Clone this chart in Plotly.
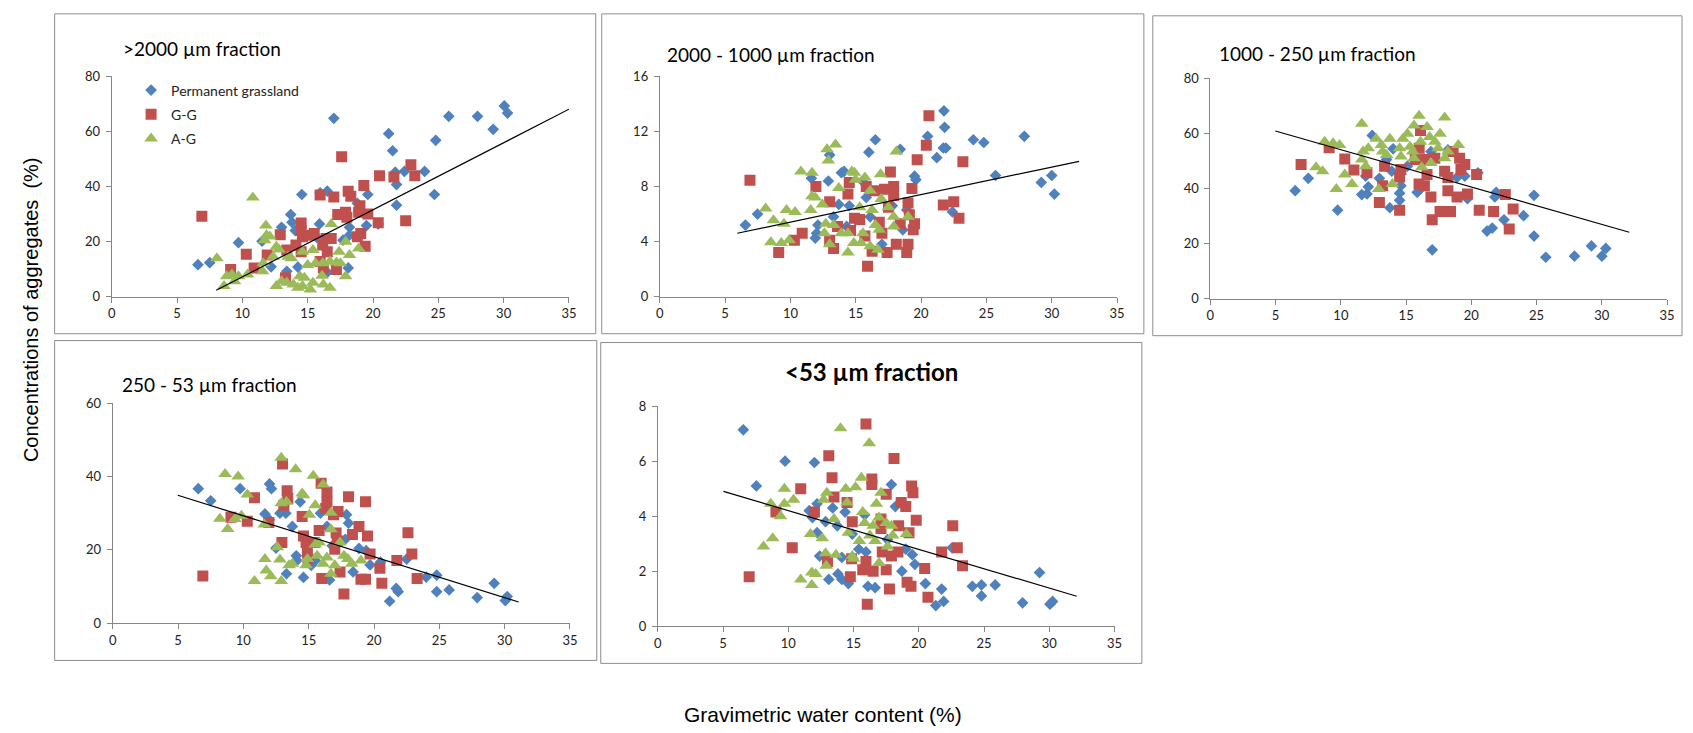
import plotly.graph_objects as go

W, H = 1693, 733

# ---------------- data ----------------
series_names = ["Permanent grassland", "G-G", "A-G"]

# Panel 1: >2000 um
p1_pg_x = [6.6, 7.5, 9.7, 11.5, 13.7, 13.8, 13.0, 14.05, 14.55, 15.95, 16.5, 17.0, 21.2, 21.5, 21.7, 21.8, 22.4, 23.95, 24.8, 24.7, 21.8, 19.6, 20.4, 19.5, 18.8, 15.9, 18.2, 18.1, 16.5, 14.25, 13.4, 12.2, 17.7, 18.2, 25.8, 28.0, 29.2, 30.05, 30.3, 15.7]
p1_pg_y = [11.6, 12.3, 19.6, 20.1, 29.8, 27.0, 25.2, 24.0, 37.1, 37.7, 38.3, 64.8, 59.2, 53.0, 45.2, 40.7, 45.5, 45.5, 56.8, 37.1, 33.2, 37.1, 26.4, 25.8, 33.9, 26.4, 25.2, 10.4, 8.8, 10.7, 9.2, 10.8, 20.5, 22.3, 65.5, 65.5, 60.8, 69.3, 66.7, 21.5]
p1_gg_x = [6.9, 17.6, 15.95, 17.0, 18.1, 18.3, 19.3, 20.5, 21.6, 22.9, 23.2, 22.5, 20.4, 19.0, 18.9, 17.9, 17.3, 18.0, 19.6, 14.5, 14.5, 12.9, 14.6, 15.1, 15.5, 16.4, 16.8, 16.15, 16.5, 19.06, 18.8, 19.4, 11.9, 10.3, 10.9, 9.1, 13.3, 16.2, 17.2, 14.1, 14.5, 13.4, 15.95]
p1_gg_y = [29.2, 50.8, 36.9, 36.2, 38.3, 36.5, 40.4, 43.9, 43.5, 47.9, 43.9, 27.6, 26.8, 33.0, 30.6, 30.6, 29.8, 28.8, 30.0, 26.7, 24.0, 22.5, 21.7, 22.3, 22.9, 21.1, 21.1, 18.7, 16.3, 22.9, 21.7, 18.3, 15.1, 15.4, 10.4, 9.8, 6.8, 10.4, 9.8, 18.7, 16.3, 16.9, 12.7]
p1_ag_x = [10.8, 8.05, 8.6, 8.8, 9.2, 9.7, 10.4, 9.4, 11.8, 11.85, 11.7, 11.6, 11.55, 12.6, 12.8, 12.35, 12.6, 13.0, 13.4, 13.9, 14.4, 14.6, 13.75, 14.6, 15.4, 15.0, 15.6, 16.15, 16.7, 17.2, 17.5, 16.8, 17.9, 18.2, 18.9, 17.9, 15.4, 16.2, 16.7, 15.2, 14.25, 14.75, 13.5, 16.1, 17.4, 12.1]
p1_ag_y = [36.0, 13.9, 3.8, 7.4, 8.0, 7.4, 8.0, 5.6, 25.8, 22.3, 20.5, 12.1, 9.2, 18.1, 17.1, 14.5, 3.8, 5.6, 5.0, 4.4, 7.4, 3.8, 13.9, 16.3, 16.9, 11.5, 12.1, 12.1, 12.7, 12.4, 12.1, 26.4, 19.9, 15.1, 17.5, 7.4, 5.0, 4.4, 3.2, 2.6, 3.2, 6.8, 14.5, 7.6, 16.3, 21.8]
trend1_x = [8.0, 35.0]
trend1_y = [2.3, 68.1]

# Panel 2: 2000 - 1000 um
p2_pg_x = [6.55, 7.48, 11.6, 12.1, 12.0, 11.9, 12.9, 13.0, 13.3, 13.7, 13.9, 14.1, 14.5, 14.3, 16.0, 16.5, 18.4, 17.8, 17.0, 19.5, 19.6, 18.9, 18.6, 20.5, 21.2, 21.7, 21.9, 21.75, 21.8, 22.4, 24.0, 24.8, 25.7, 27.9, 29.2, 30.0, 30.2, 15.8, 16.1, 15.5]
p2_pg_y = [5.2, 6.0, 8.6, 5.2, 4.6, 4.25, 8.4, 10.3, 5.8, 6.7, 9.0, 9.1, 6.6, 5.1, 10.5, 11.4, 10.7, 6.6, 3.8, 8.75, 8.5, 6.3, 4.85, 11.65, 10.1, 10.8, 10.8, 13.5, 12.3, 6.15, 11.4, 11.2, 8.8, 11.65, 8.3, 8.8, 7.45, 7.2, 5.8, 8.4]
p2_gg_x = [6.9, 9.1, 10.3, 10.9, 11.95, 13.0, 13.3, 13.0, 13.6, 14.4, 14.5, 14.9, 15.8, 15.9, 16.25, 16.4, 17.2, 17.65, 17.9, 17.9, 17.4, 18.1, 18.9, 19.0, 19.3, 19.0, 19.4, 19.5, 19.1, 19.7, 20.4, 20.6, 21.7, 22.5, 22.9, 23.2, 15.3, 15.7, 16.8, 17.5, 18.4, 17.0, 14.6]
p2_gg_y = [8.45, 3.2, 4.1, 4.6, 8.0, 6.9, 3.5, 4.1, 5.1, 7.45, 8.3, 5.7, 8.0, 2.2, 3.3, 7.7, 7.8, 9.05, 8.0, 7.35, 3.2, 3.8, 3.2, 3.8, 7.85, 6.8, 4.85, 5.3, 5.95, 9.95, 11.0, 13.15, 6.65, 6.9, 5.7, 9.8, 5.6, 4.4, 5.4, 6.5, 5.3, 4.6, 4.8]
p2_ag_x = [8.1, 8.7, 9.5, 9.7, 10.35, 8.5, 9.3, 9.9, 10.8, 11.65, 11.65, 11.9, 11.55, 12.45, 12.8, 12.9, 13.45, 13.7, 12.7, 12.6, 13.3, 13.0, 13.9, 14.4, 14.4, 14.7, 14.9, 14.98, 15.7, 15.3, 15.55, 15.4, 14.85, 16.1, 16.25, 16.1, 16.7, 16.5, 16.8, 16.9, 16.95, 17.5, 17.9, 17.9, 18.1, 19.0]
p2_ag_y = [6.4, 5.55, 5.3, 6.3, 6.15, 3.95, 3.9, 4.1, 9.1, 9.0, 7.3, 7.2, 6.3, 6.7, 10.7, 9.9, 11.05, 7.9, 5.3, 4.6, 5.2, 3.8, 4.6, 4.6, 3.2, 9.1, 9.0, 8.5, 8.65, 6.5, 4.6, 3.9, 3.9, 7.7, 6.3, 3.65, 3.4, 5.2, 4.85, 8.9, 7.1, 6.5, 5.8, 5.1, 10.55, 5.8]
trend2_x = [5.93, 32.1]
trend2_y = [4.6, 9.83]

# Panel 3: 1000 - 250 um
p3_pg_x = [6.5, 7.5, 9.75, 11.6, 12.0, 12.1, 11.9, 12.4, 12.95, 13.75, 13.9, 14.0, 14.5, 14.5, 14.6, 15.85, 16.1, 16.9, 17.0, 18.2, 18.9, 19.5, 19.7, 20.5, 21.2, 21.6, 21.9, 21.8, 22.5, 24.0, 24.8, 24.8, 25.7, 27.9, 29.2, 30.0, 30.3, 15.1, 16.4, 13.5]
p3_pg_y = [39.2, 43.7, 32.1, 37.8, 38.0, 40.6, 44.5, 59.3, 43.7, 33.0, 46.3, 54.4, 35.7, 38.3, 41.0, 38.6, 39.8, 53.4, 17.7, 54.0, 44.0, 44.5, 36.3, 45.7, 24.5, 25.6, 38.6, 36.9, 28.6, 30.1, 37.5, 22.7, 15.0, 15.4, 19.1, 15.4, 18.2, 48.1, 49.9, 50.5]
p3_gg_x = [6.95, 9.1, 10.3, 11.0, 12.0, 12.95, 13.2, 13.35, 14.5, 14.5, 14.6, 15.99, 16.1, 16.4, 16.9, 17.0, 16.5, 17.2, 17.6, 18.4, 18.2, 17.95, 18.2, 18.9, 19.1, 19.2, 19.5, 19.7, 20.4, 20.6, 21.7, 22.6, 22.9, 23.2, 15.7, 16.0, 16.6, 18.6]
p3_gg_y = [48.7, 54.8, 50.7, 46.7, 45.7, 34.9, 41.0, 48.1, 32.1, 44.2, 46.9, 41.6, 61.1, 41.0, 36.9, 28.6, 50.5, 51.0, 31.6, 31.6, 39.2, 46.3, 44.0, 36.9, 51.0, 46.9, 48.7, 38.0, 45.1, 32.1, 31.6, 37.8, 25.3, 32.5, 50.5, 54.6, 45.1, 53.4]
p3_ag_x = [8.1, 8.6, 8.75, 9.4, 9.65, 9.9, 10.3, 10.85, 11.6, 11.7, 11.6, 11.9, 12.1, 12.7, 12.9, 13.1, 13.2, 13.75, 13.95, 14.5, 14.6, 14.75, 15.1, 15.5, 15.6, 15.6, 15.99, 16.1, 16.2, 16.6, 16.8, 16.9, 17.2, 17.6, 17.45, 17.95, 17.95, 18.2, 19.0, 15.3, 13.5]
p3_ag_y = [47.7, 46.3, 57.0, 56.4, 39.8, 55.8, 45.1, 41.6, 63.5, 53.4, 50.5, 48.1, 54.6, 58.1, 39.8, 55.8, 53.4, 58.1, 41.6, 54.6, 51.6, 58.1, 59.9, 53.4, 51.0, 62.9, 66.4, 57.0, 47.7, 62.3, 58.7, 49.3, 57.0, 59.9, 54.6, 65.8, 51.0, 53.4, 55.8, 55.2, 52.2]
trend3_x = [4.98, 32.1]
trend3_y = [60.9, 24.1]

# Panel 4: 250 - 53 um
p4_pg_x = [6.55, 7.5, 9.75, 11.65, 12.0, 12.15, 12.0, 12.5, 12.8, 13.25, 13.3, 13.75, 14.05, 14.1, 14.35, 14.6, 15.9, 16.4, 16.6, 16.8, 17.8, 17.9, 18.05, 18.4, 18.85, 19.4, 19.7, 20.5, 21.2, 21.7, 21.85, 22.5, 24.0, 24.8, 24.8, 25.75, 27.9, 29.2, 30.05, 30.2, 15.5, 15.2]
p4_pg_y = [36.7, 33.4, 36.7, 29.8, 38.0, 36.7, 28.2, 20.5, 30.0, 30.0, 13.5, 26.4, 18.4, 17.1, 33.1, 12.5, 30.0, 26.4, 11.8, 21.1, 22.9, 29.6, 27.3, 14.0, 20.4, 19.8, 15.9, 16.7, 6.0, 9.5, 8.6, 17.5, 12.6, 13.1, 8.6, 9.1, 7.0, 10.9, 6.2, 7.3, 17.1, 15.8]
p4_gg_x = [6.9, 9.05, 10.3, 10.85, 11.95, 12.95, 13.0, 13.1, 13.35, 13.4, 14.5, 14.6, 14.8, 14.9, 15.8, 15.95, 16.0, 16.4, 16.4, 16.3, 16.9, 17.25, 17.1, 17.2, 17.0, 17.4, 17.7, 18.05, 18.35, 18.85, 19.0, 19.35, 19.35, 19.5, 19.7, 20.45, 20.6, 21.75, 22.6, 22.9, 23.3, 15.45, 14.95]
p4_gg_y = [12.9, 28.9, 27.8, 34.2, 27.5, 22.0, 43.4, 32.2, 36.1, 34.0, 29.1, 23.8, 22.0, 19.3, 25.3, 38.2, 12.2, 35.8, 33.1, 31.3, 29.6, 30.5, 24.6, 22.4, 20.2, 14.0, 8.0, 34.5, 24.2, 26.4, 12.0, 12.0, 33.1, 23.8, 18.9, 15.0, 10.9, 17.1, 24.7, 18.9, 12.2, 22.0, 17.5]
p4_ag_x = [8.2, 8.6, 8.8, 9.35, 9.6, 9.85, 10.3, 10.85, 11.6, 11.65, 11.75, 12.1, 12.6, 12.8, 12.9, 12.9, 13.3, 12.9, 13.5, 14.0, 13.75, 14.5, 14.6, 14.8, 14.9, 15.05, 15.35, 15.5, 15.5, 15.65, 16.1, 16.1, 16.4, 16.7, 16.7, 16.7, 17.0, 17.4, 17.7, 18.0, 18.3, 19.0, 15.8]
p4_ag_y = [28.5, 40.7, 25.7, 28.4, 40.0, 29.3, 35.1, 11.5, 26.9, 17.5, 14.4, 12.8, 20.7, 17.4, 45.1, 32.7, 33.1, 11.5, 15.8, 42.0, 16.2, 35.4, 34.9, 15.8, 17.5, 29.6, 40.2, 32.2, 21.5, 18.4, 37.8, 16.2, 17.9, 30.1, 25.6, 13.5, 15.8, 22.0, 18.4, 17.5, 16.2, 17.1, 22.0]
trend4_x = [4.98, 31.07]
trend4_y = [34.9, 5.8]

# Panel 5: <53 um
p5_pg_x = [6.55, 7.55, 9.75, 12.0, 11.6, 12.2, 11.85, 12.2, 12.4, 12.85, 13.1, 13.4, 13.75, 13.8, 14.1, 14.1, 14.35, 14.6, 14.9, 15.85, 15.95, 16.1, 16.65, 17.9, 18.2, 18.7, 19.0, 19.5, 19.7, 20.5, 21.3, 21.75, 21.9, 22.55, 24.1, 24.8, 24.8, 25.85, 27.95, 29.25, 30.05, 30.25, 17.6, 15.4]
p5_pg_y = [7.14, 5.1, 6.0, 5.95, 4.2, 4.45, 3.95, 3.4, 2.55, 3.8, 1.7, 4.3, 3.65, 1.9, 2.5, 1.7, 4.15, 1.55, 3.35, 4.05, 2.7, 1.45, 1.4, 5.15, 4.35, 2.0, 2.8, 2.6, 2.25, 1.55, 0.75, 1.35, 0.9, 2.85, 1.45, 1.5, 1.1, 1.5, 0.85, 1.95, 0.8, 0.9, 3.15, 2.8]
p5_gg_x = [7.0, 9.05, 10.3, 10.95, 12.0, 13.1, 13.35, 13.5, 13.0, 14.5, 14.75, 14.9, 15.95, 15.95, 15.7, 16.05, 16.4, 16.4, 16.5, 17.1, 17.1, 17.2, 17.5, 17.5, 17.75, 18.1, 17.9, 18.4, 18.45, 18.65, 19.0, 19.1, 19.4, 19.25, 19.45, 19.55, 19.8, 20.45, 20.7, 21.75, 22.6, 22.95, 23.35, 14.85]
p5_gg_y = [1.8, 4.15, 2.85, 5.0, 4.15, 6.2, 5.4, 4.7, 2.35, 4.5, 1.8, 3.8, 7.35, 2.35, 2.05, 0.8, 5.35, 5.15, 2.0, 3.9, 3.55, 2.7, 4.8, 2.05, 1.35, 6.1, 2.55, 2.7, 3.65, 4.5, 4.35, 1.6, 1.45, 3.4, 5.1, 4.85, 3.85, 2.1, 1.05, 2.7, 3.65, 2.85, 2.2, 2.45]
p5_ag_x = [8.1, 8.8, 8.65, 9.4, 9.7, 9.7, 10.4, 10.95, 11.7, 11.8, 11.8, 12.1, 12.6, 12.7, 12.85, 12.9, 12.95, 13.5, 13.65, 14.0, 14.4, 14.5, 14.6, 14.9, 15.0, 15.15, 15.45, 15.6, 15.7, 15.85, 16.2, 16.25, 16.5, 16.65, 16.75, 16.95, 16.95, 17.1, 17.5, 17.6, 17.9, 18.0, 19.05]
p5_ag_y = [2.9, 3.2, 4.45, 4.0, 5.0, 4.45, 4.6, 1.7, 3.35, 1.95, 1.5, 1.9, 3.2, 4.6, 2.65, 2.2, 4.85, 3.9, 2.6, 7.2, 5.0, 4.5, 3.4, 2.55, 2.45, 5.05, 3.1, 5.4, 4.15, 3.75, 6.65, 3.3, 3.65, 3.1, 4.45, 3.95, 2.3, 4.85, 3.75, 2.9, 3.65, 3.3, 3.35]
trend5_x = [5.03, 32.1]
trend5_y = [4.9, 1.09]

panel_titles = [">2000 µm fraction", "2000 - 1000 µm fraction", "1000 - 250 µm fraction",
                "250 - 53 µm fraction", "<53 µm fraction"]
x_ticks = [0, 5, 10, 15, 20, 25, 30, 35]
y_maxes = [80, 16, 80, 60, 8]
y_dticks = [20, 4, 20, 20, 2]

# ---------------- styling / layout ----------------
def fx(p):
    return p / W

def fy(p):
    return 1 - p / H

colors = ["#4F81BD", "#C0504D", "#9BBB59"]
symbols = ["diamond", "square", "triangle-up"]
sizes = [9, 11, 12]

panel_data = [
    [(p1_pg_x, p1_pg_y), (p1_gg_x, p1_gg_y), (p1_ag_x, p1_ag_y), (trend1_x, trend1_y)],
    [(p2_pg_x, p2_pg_y), (p2_gg_x, p2_gg_y), (p2_ag_x, p2_ag_y), (trend2_x, trend2_y)],
    [(p3_pg_x, p3_pg_y), (p3_gg_x, p3_gg_y), (p3_ag_x, p3_ag_y), (trend3_x, trend3_y)],
    [(p4_pg_x, p4_pg_y), (p4_gg_x, p4_gg_y), (p4_ag_x, p4_ag_y), (trend4_x, trend4_y)],
    [(p5_pg_x, p5_pg_y), (p5_gg_x, p5_gg_y), (p5_ag_x, p5_ag_y), (trend5_x, trend5_y)],
]

# plot-area pixel boxes (left, right, bottom, top)
plot_px = [
    (108.5, 569.0, 295.0, 70.0),
    (660.5, 1121.0, 295.0, 70.0),
    (1215.0, 1675.0, 297.0, 72.0),
    (109.5, 570.0, 629.0, 404.0),
    (658.5, 1118.5, 632.0, 407.0),
]
# chart-area frames (left, top, right, bottom)
frames_px = [
    (51, 6, 596, 333),
    (602, 6, 1148, 333),
    (1157, 8, 1690, 335),
    (51, 340, 597, 667),
    (601, 342, 1146, 670),
]
title_pos = [(118, 41, "left"), (666, 48, "left"), (1222, 47, "left"), (117, 385, "left"), (874, 372, "center")]

fig = go.Figure()
layout = dict(
    width=W, height=H,
    margin=dict(l=0, r=0, t=0, b=0),
    paper_bgcolor="white", plot_bgcolor="white",
    showlegend=True,
    legend=dict(x=fx(128), y=fy(68), xanchor="left", yanchor="top",
                bgcolor="rgba(0,0,0,0)", font=dict(family="Lato", size=14, color="#222"),
                tracegroupgap=3, itemwidth=30),
)

tick_font = dict(family="Lato", size=13, color="#222")
for i in range(5):
    ax = "" if i == 0 else str(i + 1)
    l, r, b, t = plot_px[i]
    layout["xaxis" + ax] = dict(
        domain=[fx(l), fx(r)], anchor="y" + ax, range=[0, 35],
        tickvals=x_ticks, showline=True, linecolor="#868686", linewidth=1,
        ticks="outside", ticklen=5, tickcolor="#868686", showgrid=False,
        zeroline=False, tickfont=tick_font, fixedrange=True)
    layout["yaxis" + ax] = dict(
        domain=[fy(b), fy(t)], anchor="x" + ax, range=[0, y_maxes[i]],
        dtick=y_dticks[i], tick0=0, showline=True, linecolor="#868686", linewidth=1,
        ticks="outside", ticklen=5, tickcolor="#868686", showgrid=False,
        zeroline=False, tickfont=tick_font, fixedrange=True, ticklabelstandoff=3)

    for s in range(3):
        xs, ys = panel_data[i][s]
        fig.add_trace(go.Scatter(
            x=xs, y=ys, mode="markers", name=series_names[s],
            xaxis="x" + ax, yaxis="y" + ax,
            legendgroup=series_names[s] if i == 0 else None,
            showlegend=(i == 0),
            marker=dict(symbol=symbols[s], size=sizes[s], color=colors[s],
                        line=dict(width=0))))
    tx, ty = panel_data[i][3]
    fig.add_trace(go.Scatter(x=tx, y=ty, mode="lines", xaxis="x" + ax, yaxis="y" + ax,
                             line=dict(color="black", width=1.2), showlegend=False,
                             hoverinfo="skip"))

shapes = []
for (l, t, r, b) in frames_px:
    shapes.append(dict(type="rect", xref="paper", yref="paper",
                       x0=fx(l), x1=fx(r), y0=fy(b), y1=fy(t),
                       line=dict(color="#8c8c8c", width=1), fillcolor="rgba(0,0,0,0)",
                       layer="below"))
layout["shapes"] = shapes

annotations = []
for i, (px, py, anc) in enumerate(title_pos):
    bold = i == 4
    annotations.append(dict(
        xref="paper", yref="paper", x=fx(px), y=fy(py), xanchor=anc, yanchor="middle",
        text=("<b>%s</b>" % panel_titles[i]) if bold else panel_titles[i],
        showarrow=False,
        font=dict(family="Lato", size=24 if bold else 19, color="black")))
annotations.append(dict(
    xref="paper", yref="paper", x=fx(27), y=fy(308), xanchor="center", yanchor="middle",
    text="Concentrations of aggregates  (%)", textangle=-90, showarrow=False,
    font=dict(family="Liberation Sans", size=20, color="black")))
annotations.append(dict(
    xref="paper", yref="paper", x=fx(825), y=fy(722), xanchor="center", yanchor="middle",
    text="Gravimetric water content (%)", showarrow=False,
    font=dict(family="Liberation Sans", size=21, color="black")))
layout["annotations"] = annotations

fig.update_layout(**layout)
fig.write_html("out.html")
